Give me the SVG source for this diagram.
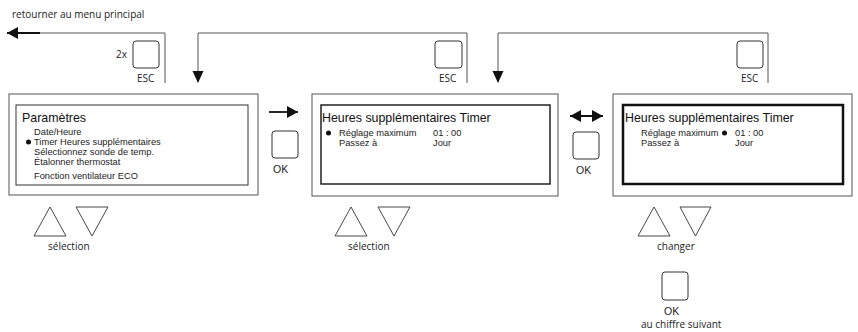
<svg xmlns="http://www.w3.org/2000/svg" width="858" height="332" viewBox="0 0 858 332">
<defs>
<style>
.outer{fill:#fff;stroke:#555;stroke-width:1}
.btn{fill:#fff;stroke:#333;stroke-width:1}
.conn{fill:none;stroke:#555;stroke-width:1}
.tri{fill:#fff;stroke:#333;stroke-width:0.9}
.lbl{font-family:"Open Sans","Liberation Sans",sans-serif;font-size:10px;fill:#222}
.title{font-family:"Liberation Sans",Arial,sans-serif;font-size:12.4px;fill:#111}
.item{font-family:"Liberation Sans",Arial,sans-serif;font-size:9.3px;fill:#222}
.ok{font-family:"Liberation Sans",Arial,sans-serif;font-size:10.5px;fill:#222}
</style>
<marker id="ah" viewBox="0 0 10 10" refX="10" refY="5" markerWidth="11" markerHeight="12" markerUnits="userSpaceOnUse" orient="auto-start-reverse" preserveAspectRatio="none">
<path d="M0,0 L10,5 L0,10 Z" fill="#111"/>
</marker>
</defs>
<rect width="858" height="332" fill="#fff"/>

<g id="connectors">
<text class="lbl" x="12" y="18">retourner au menu principal</text>
<path class="conn" d="M40,33 H165 V83"/>
<line x1="40" y1="33" x2="7" y2="33" stroke="#111" stroke-width="2" marker-end="url(#ah)"/>
<path class="conn" d="M467,83 V33 H198 V82"/>
<path d="M192.5,71 L203.5,71 L198,83 Z" fill="#111"/>
<path class="conn" d="M768,83 V33 H498 V82"/>
<path d="M492.5,71 L503.5,71 L498,83 Z" fill="#111"/>
<line x1="269" y1="112" x2="298" y2="112" stroke="#111" stroke-width="1.8" marker-end="url(#ah)"/>
<line x1="570" y1="116" x2="603" y2="116" stroke="#111" stroke-width="1.8" marker-start="url(#ah)" marker-end="url(#ah)"/>
</g>

<g id="esc1">
<rect class="btn" x="133" y="41" width="26" height="27" rx="3"/>
<text class="lbl" x="116" y="58">2x</text>
<text class="lbl" x="137" y="82">ESC</text>
</g>
<g id="esc2">
<rect class="btn" x="435" y="41" width="27" height="27" rx="3"/>
<text class="lbl" x="439" y="82">ESC</text>
</g>
<g id="esc3">
<rect class="btn" x="737" y="41" width="26" height="27" rx="3"/>
<text class="lbl" x="741" y="82">ESC</text>
</g>

<g id="screen1">
<rect class="outer" x="9" y="94" width="249" height="101"/>
<rect x="16" y="105" width="232" height="80" fill="none" stroke="#333" stroke-width="1"/>
<text class="title" x="22" y="122">Paramètres</text>
<text class="item" x="34" y="135">Date/Heure</text>
<circle cx="28.5" cy="142" r="2.5" fill="#111"/>
<text class="item" x="34" y="145">Timer Heures supplémentaires</text>
<text class="item" x="34" y="155">Sélectionnez sonde de temp.</text>
<text class="item" x="34" y="165">Étalonner thermostat</text>
<text class="item" x="34" y="179">Fonction ventilateur ECO</text>
</g>

<g id="ok1">
<rect class="btn" x="272" y="131" width="26" height="27" rx="3"/>
<text class="ok" x="273" y="173">OK</text>
</g>

<g id="screen2">
<rect class="outer" x="312" y="94" width="246" height="102"/>
<rect x="321" y="105" width="229" height="79" fill="none" stroke="#222" stroke-width="1.5"/>
<text class="title" x="322" y="122">Heures supplémentaires Timer</text>
<circle cx="328.5" cy="133" r="2.5" fill="#111"/>
<text class="item" x="339" y="136">Réglage maximum</text>
<text class="item" x="433" y="136">01 : 00</text>
<text class="item" x="339" y="146">Passez à</text>
<text class="item" x="433" y="146">Jour</text>
</g>

<g id="ok2">
<rect class="btn" x="573" y="132" width="26" height="27" rx="3"/>
<text class="ok" x="576" y="174">OK</text>
</g>

<g id="screen3">
<rect class="outer" x="613" y="94" width="239" height="102"/>
<rect x="623" y="105" width="220" height="79" fill="none" stroke="#111" stroke-width="2.5"/>
<text class="title" x="625" y="122">Heures supplémentaires Timer</text>
<text class="item" x="641" y="136">Réglage maximum</text>
<circle cx="724.5" cy="133" r="2.5" fill="#111"/>
<text class="item" x="735" y="136">01 : 00</text>
<text class="item" x="641" y="146">Passez à</text>
<text class="item" x="735" y="146">Jour</text>
</g>

<g id="nav1">
<path class="tri" d="M34,236 L50,207 L66,236 Z"/>
<path class="tri" d="M76,207 L108,207 L92,236 Z"/>
<text class="lbl" x="48" y="250">sélection</text>
</g>
<g id="nav2">
<path class="tri" d="M335,236 L351,207 L367,236 Z"/>
<path class="tri" d="M378,207 L410,207 L394,236 Z"/>
<text class="lbl" x="348" y="250">sélection</text>
</g>
<g id="nav3">
<path class="tri" d="M638,236 L654,207 L670,236 Z"/>
<path class="tri" d="M680,207 L711,207 L695.5,236 Z"/>
<text class="lbl" x="657" y="250">changer</text>
</g>
<g id="ok3">
<rect class="btn" x="662" y="272" width="26" height="28" rx="3"/>
<text class="ok" x="664" y="315">OK</text>
<text class="lbl" x="641" y="328">au chiffre suivant</text>
</g>
</svg>
